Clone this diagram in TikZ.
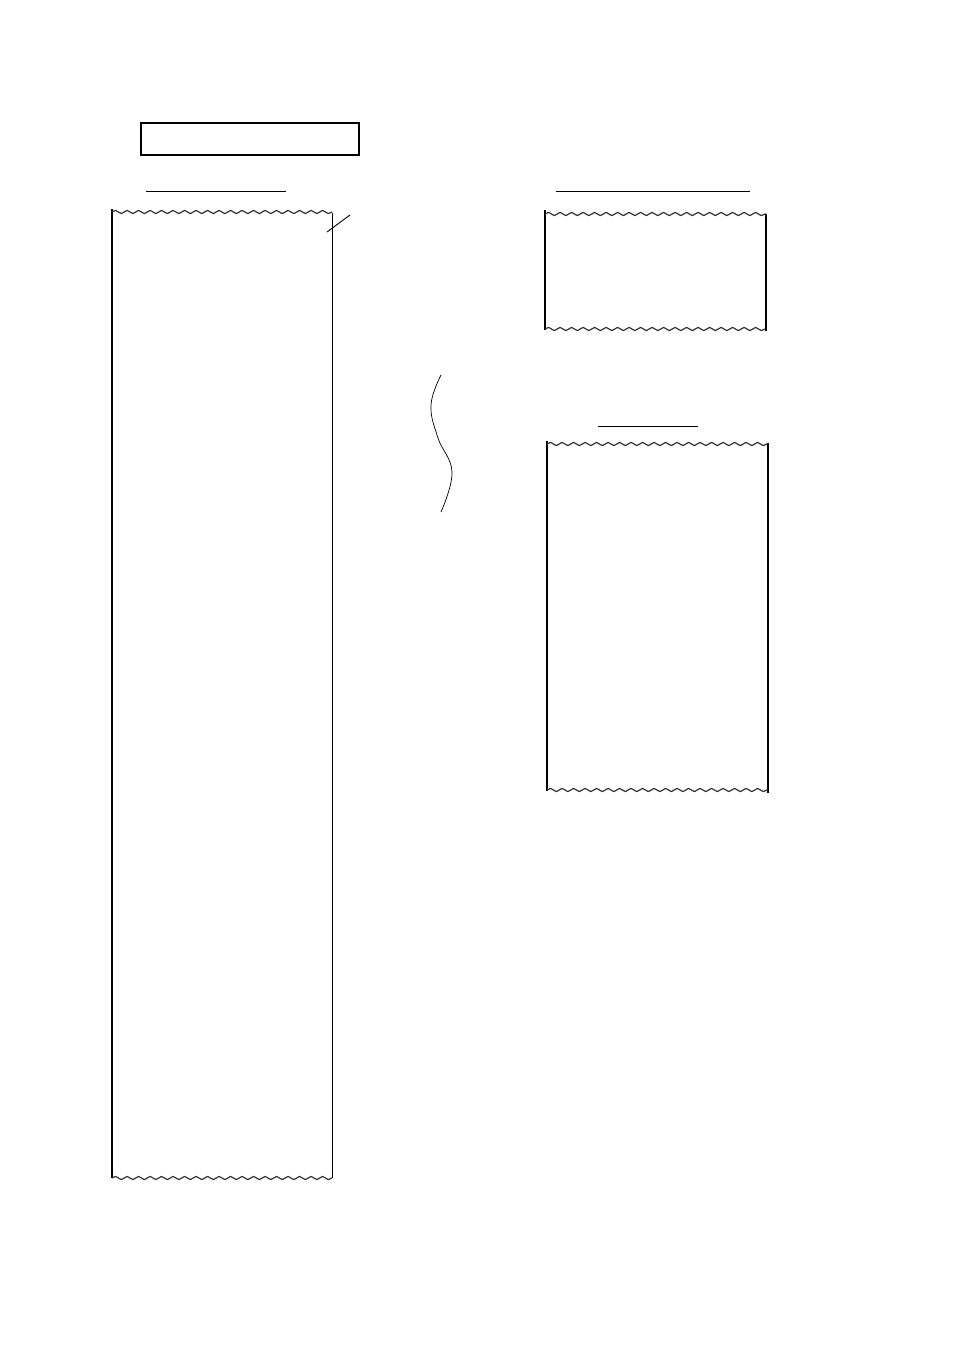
\documentclass[tikz,border=0pt]{standalone}
\usetikzlibrary{decorations.pathmorphing}

\begin{document}
\begin{tikzpicture}[x = 1pt, y = -1pt]
	\tikzstyle{edgeStyle} = [line width = 1.3pt]
	\tikzstyle{thinStyle} = [line width = 0.9pt]
	\tikzstyle{thickStyle} = [line width = 2.2pt]
	\tikzstyle{waveStyle} = [line width = 1.2pt, black!80, line join = round, decorate, decoration = {snake, segment length = 11.5pt, amplitude = 1.6pt}]
	\useasboundingbox (0,0) rectangle (954,1350);
	% heading box and underlines
	\node[draw, line width = 1.3pt, minimum width = 218pt, minimum height = 32pt, inner sep = 0pt] (title) at (250,139) {};
	\coordinate (u1a) at (146,191); \coordinate (u1b) at (286,191);
	\coordinate (u2a) at (556,191); \coordinate (u2b) at (750,191);
	\coordinate (u3a) at (598,426); \coordinate (u3b) at (698,426);
	\draw[thinStyle] (u1a) -- (u1b);
	\draw[thinStyle] (u2a) -- (u2b);
	\draw[thinStyle] (u3a) -- (u3b);
	% long paper
	\draw[edgeStyle] (112,209) -- (112,1178);
	\draw[thinStyle] (332,213) -- (332,1178);
	\draw[waveStyle] (112,212) -- (332,212);
	\draw[waveStyle] (112,1178) -- (332,1178);
	\coordinate (s1) at (327,232); \coordinate (s2) at (350,215);
	\draw[thinStyle] (s1) -- (s2);
	% short paper
	\draw[edgeStyle] (545,210) -- (545,330);
	\draw[thickStyle] (766,214) -- (766,331);
	\draw[waveStyle] (545,214) -- (766,214);
	\draw[waveStyle] (545,329) -- (766,329);
	% medium paper
	\draw[edgeStyle] (547,441) -- (547,791);
	\draw[thickStyle] (768,443) -- (768,793);
	\draw[waveStyle] (547,444) -- (768,444);
	\draw[waveStyle] (547,790) -- (768,790);
	% break mark
	\draw[line width = 0.7pt] plot[smooth, tension = 0.7] coordinates {(441,375) (431,405) (438,438) (452,472) (441,512)};
\end{tikzpicture}
\end{document}
